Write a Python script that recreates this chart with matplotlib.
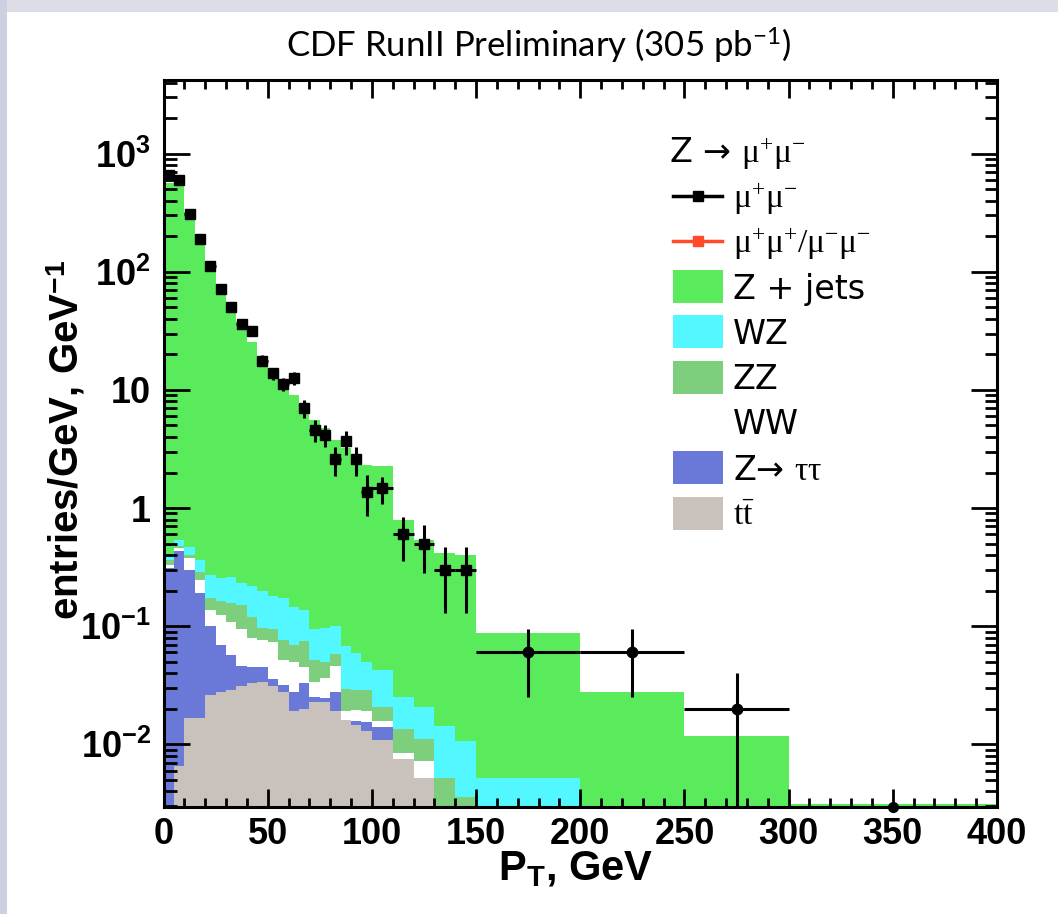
import numpy as np
import matplotlib.pyplot as plt
from matplotlib.patches import Rectangle
from matplotlib.lines import Line2D
from matplotlib.ticker import LogLocator, MultipleLocator, NullFormatter

plt.rcParams['font.family'] = ['Liberation Sans', 'DejaVu Sans']
plt.rcParams['mathtext.fontset'] = 'custom'
plt.rcParams['mathtext.rm'] = 'Liberation Serif'
plt.rcParams['mathtext.it'] = 'Liberation Serif:italic'
plt.rcParams['mathtext.bf'] = 'Liberation Sans:bold'
plt.rcParams['mathtext.sf'] = 'Lato'

# pT bins in GeV (5 GeV up to 100, 10 GeV up to 150, then wide bins)
pt_edges = [0, 5, 10, 15, 20, 25, 30, 35, 40, 45, 50, 55, 60, 65, 70, 75, 80, 85, 90, 95,
            100, 110, 120, 130, 140, 150, 200, 250, 300, 400]

# stacked MC, entries/GeV, each array is the running sum up to that sample
stack_ttbar = [0.0, 0.0065, 0.0168, 0.0168, 0.026, 0.028, 0.029, 0.031, 0.033, 0.034,
               0.031, 0.028, 0.019, 0.020, 0.023, 0.023, 0.019, 0.016, 0.0145, 0.013,
               0.0108, 0.0075, 0.0052, 0.0, 0.0, 0.0, 0.0, 0.0, 0.0]
stack_ztautau = [0.31, 0.43, 0.30, 0.19, 0.10, 0.07, 0.057, 0.046, 0.045, 0.045,
                 0.036, 0.032, 0.028, 0.033, 0.025, 0.0245, 0.028, 0.016, 0.0157, 0.0155,
                 0.0139, 0.0075, 0.0052, 0.0, 0.0, 0.0, 0.0, 0.0, 0.0]
stack_ww = [0.33, 0.46, 0.38, 0.248, 0.138, 0.125, 0.109, 0.094, 0.08, 0.077,
            0.073, 0.052, 0.05, 0.045, 0.034, 0.0365, 0.046, 0.0193, 0.0197, 0.019,
            0.0157, 0.0084, 0.0073, 0.0, 0.0, 0.0, 0.0, 0.0, 0.0]
stack_zz = [0.36, 0.48, 0.40, 0.29, 0.175, 0.163, 0.158, 0.15, 0.12, 0.097,
            0.094, 0.077, 0.07, 0.075, 0.052, 0.05, 0.058, 0.0297, 0.029, 0.029,
            0.0208, 0.0134, 0.011, 0.0052, 0.0036, 0.0, 0.0, 0.0, 0.0]
stack_wz = [0.40, 0.54, 0.47, 0.366, 0.27, 0.255, 0.26, 0.23, 0.22, 0.20,
            0.18, 0.175, 0.145, 0.138, 0.094, 0.096, 0.10, 0.068, 0.059, 0.05,
            0.043, 0.025, 0.0207, 0.0143, 0.0107, 0.0052, 0.0, 0.0, 0.0]
stack_zjets = [560, 580, 321, 198, 118, 74.6, 52.3, 37.8, 25.6, 19.1,
               14.8, 11.4, 9.1, 7.2, 5.6, 4.8, 3.8, 3.2, 2.7, 2.3,
               2.25, 0.79, 0.54, 0.42, 0.40, 0.088, 0.028, 0.0118, 0.0031]

# opposite-sign dimuon data, entries/GeV
data_vals = [656, 596, 307, 188, 112, 71, 50.6, 35.9, 31.5, 17.7,
             13.8, 11.2, 12.7, 7.0, 4.6, 4.17, 2.6, 3.66, 2.6, 1.38,
             1.47, 0.6, 0.5, 0.3, 0.3, 0.06, 0.06, 0.02, 0.0]
data_errs = [11.5, 10.9, 7.8, 6.1, 4.7, 3.8, 3.2, 2.7, 2.5, 1.9,
             1.66, 1.5, 1.6, 1.18, 0.96, 0.91, 0.72, 0.86, 0.72, 0.53,
             0.38, 0.245, 0.22, 0.17, 0.17, 0.035, 0.035, 0.02, 0.0]

y_lo, y_hi = 0.00295, 4200

c_zjets = '#59eb5b'
c_wz = '#52f7ff'
c_zz = '#7dce7d'
c_ww = '#ffffff'
c_ztt = '#6a78d8'
c_tt = '#c9c1bb'
c_ss = '#ff4b2b'

W, H = 1058, 914
fig = plt.figure(figsize=(W / 100, H / 100), dpi=100, facecolor='white')


def fpos(x, y):
    # pixel position (from top-left) -> figure fraction
    return x / W, 1 - y / H


# slide border strips
fig.add_artist(Rectangle((0, 1 - 12 / H), 1, 12 / H, transform=fig.transFigure,
                         facecolor='#dcdde7', edgecolor='none', zorder=0))
fig.add_artist(Rectangle((0, 0), 7 / W, 1, transform=fig.transFigure,
                         facecolor='#cdd0e1', edgecolor='none', zorder=0))

ax = fig.add_axes([163.5 / W, 107 / H, 833.5 / W, 727 / H])
ax.set_yscale('log')

edges = np.array(pt_edges, dtype=float)
floor = 1e-5
layers = [(stack_zjets, c_zjets), (stack_wz, c_wz), (stack_zz, c_zz),
          (stack_ww, c_ww), (stack_ztautau, c_ztt), (stack_ttbar, c_tt)]
for vals, col in layers:
    v = np.maximum(np.array(vals, dtype=float), floor)
    ax.stairs(v, edges, baseline=floor, fill=True, color=col, linewidth=0)

# data points
centers = 0.5 * (edges[:-1] + edges[1:])
half_w = 0.5 * np.diff(edges)
dv = np.array(data_vals)
de = np.array(data_errs)
filled = dv > 0
narrow = half_w <= 5
for sel, mk in [(filled & narrow, 's'), (filled & ~narrow, 'o')]:
    ax.errorbar(centers[sel], dv[sel], xerr=half_w[sel], yerr=de[sel],
                fmt=mk, color='black', ms=7.5, elinewidth=2.2, capsize=0, zorder=5)
# empty bins sit on the lower edge of the frame
ax.plot(centers[~filled], np.full((~filled).sum(), y_lo), 'o', color='black',
        ms=7, clip_on=False, zorder=7)

ax.set_xlim(0, 400)
ax.set_ylim(y_lo, y_hi)

ax.set_yticks([1e-2, 1e-1, 1, 10, 1e2, 1e3],
              [r'$\mathbf{10^{-2}}$', r'$\mathbf{10^{-1}}$', '1', '10',
               r'$\mathbf{10^{2}}$', r'$\mathbf{10^{3}}$'])
ax.yaxis.set_minor_locator(LogLocator(base=10, subs=np.arange(2, 10)))
ax.yaxis.set_minor_formatter(NullFormatter())
ax.set_xticks(np.arange(0, 401, 50))
ax.xaxis.set_minor_locator(MultipleLocator(10))

for lab in ax.get_xticklabels() + ax.get_yticklabels():
    lab.set_fontweight('bold')
    lab.set_fontsize(26)

ax.tick_params(which='both', direction='in', top=True, right=True, width=2, color='black')
ax.tick_params(axis='x', which='major', length=13, pad=7)
ax.tick_params(axis='x', which='minor', length=6.5)
ax.tick_params(axis='y', which='major', length=19, pad=9)
ax.tick_params(axis='y', which='minor', length=9)
for sp in ax.spines.values():
    sp.set_linewidth(2.2)
    sp.set_zorder(6)

ax.set_xlabel(r'$\mathbf{P_{T}}$, GeV', fontsize=30, fontweight='bold')
ax.xaxis.set_label_coords(0.494, -0.058)
ax.set_ylabel(r'entries/GeV, GeV$^{\mathbf{-1}}$', fontsize=29, fontweight='bold')
ax.yaxis.set_label_coords(-0.092, 0.505)

# legend block, one row every 45 px
leg_font = dict(family=['DejaVu Sans'], fontsize=24)
fig.text(*fpos(669, 151 + 12), r'Z → $\mathrm{\mu^{+}\mu^{-}}$',
         va='baseline', ha='left', **leg_font)
leg_rows = [
    ('line', 'black', r'$\mathrm{\mu^{+}\mu^{-}}$'),
    ('line', c_ss, r'$\mathrm{\mu^{+}\mu^{+}/\mu^{-}\mu^{-}}$'),
    ('box', c_zjets, 'Z + jets'),
    ('box', c_wz, 'WZ'),
    ('box', c_zz, 'ZZ'),
    ('box', c_ww, 'WW'),
    ('box', c_ztt, r'Z→ $\mathrm{\tau\tau}$'),
    ('box', c_tt, r'$\mathrm{t\bar{t}}$'),
]
for i, (kind, col, text) in enumerate(leg_rows):
    yc = 196 + 45.3 * i
    if kind == 'line':
        x0, y0 = fpos(673, yc)
        x1, _ = fpos(722, yc)
        fig.add_artist(Line2D([x0, x1], [y0, y0], color=col, lw=2.5,
                              transform=fig.transFigure))
        fig.add_artist(Line2D([(x0 + x1) / 2], [y0], color=col, marker='s', ms=7,
                              transform=fig.transFigure))
    else:
        bx, by = fpos(673, yc + 16.5)
        fig.add_artist(Rectangle((bx, by), 50 / W, 33 / H, transform=fig.transFigure,
                                 facecolor=col, edgecolor='none'))
    fig.text(*fpos(733, yc + 12), text, va='baseline', ha='left', **leg_font)

fig.text(*fpos(539, 45), r'CDF RunII Preliminary (305 pb$^{\mathsf{-1}}$)',
         family=['Lato', 'DejaVu Sans'], fontsize=25, ha='center', va='center')

fig.savefig('out.png', dpi=100, facecolor='white')
